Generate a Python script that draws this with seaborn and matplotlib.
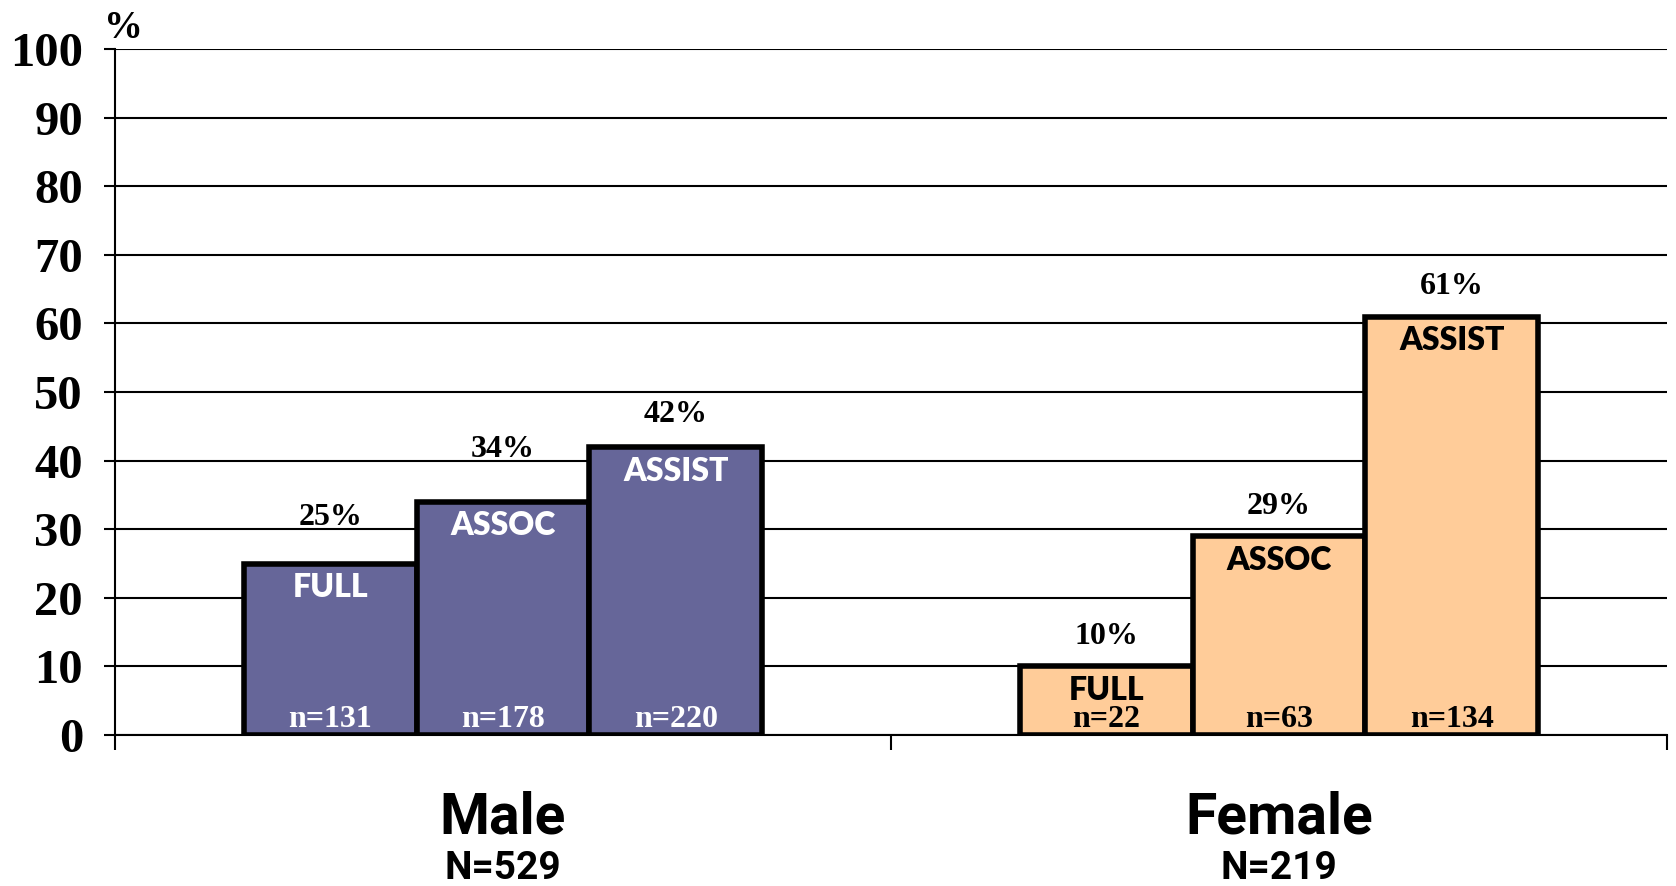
import matplotlib
matplotlib.use("Agg")
import matplotlib.pyplot as plt
import pandas as pd
import seaborn as sns

# chart data
genders = ["Male", "Female"]
group_totals = [529, 219]
ranks = ["FULL", "ASSOC", "ASSIST"]
male_pct = [25, 34, 42]
female_pct = [10, 29, 61]
male_n = [131, 178, 220]
female_n = [22, 63, 134]
y_ticks = list(range(0, 101, 10))

df = pd.DataFrame({
    "gender": [g for g in genders for _ in ranks],
    "rank": ranks * len(genders),
    "pct": male_pct + female_pct,
    "n": male_n + female_n,
})

# label gaps above each bar (points), hand placed in the original slide
pct_pad = {"Male": [28, 32, 18], "Female": [16, 16, 16]}
bar_colors = {"Male": "#666699", "Female": "#FFCC99"}
inner_colors = {"Male": "white", "Female": "black"}
serif = ["Liberation Serif", "DejaVu Serif"]
sans = ["Lato", "DejaVu Sans"]
cond = ["Roboto", "Liberation Sans", "DejaVu Sans"]

sns.set_theme(style="white")
plt.rcParams["text.color"] = "black"
plt.rcParams["ytick.color"] = "black"
plt.rcParams["xtick.color"] = "black"

fig = plt.figure(figsize=(16.76, 8.86), dpi=100)
ax = fig.add_axes([0.0686, 0.1704, 0.926, 0.7743])

sns.barplot(data=df, x="gender", y="pct", hue="rank", order=genders,
            hue_order=ranks, width=0.668, gap=0, errorbar=None,
            edgecolor="black", linewidth=4, legend=False, ax=ax)

# recolour bars by gender and put the labels on
for ri, cont in enumerate(ax.containers):
    for gi, bar in enumerate(cont):
        g = genders[gi]
        bar.set_facecolor(bar_colors[g])
        bar.set_edgecolor("black")
        cx = bar.get_x() + bar.get_width() / 2
        h = bar.get_height()
        row = df[(df.gender == g) & (df["rank"] == ranks[ri])].iloc[0]
        ax.annotate(f"{int(row.pct)}%", xy=(cx, h), xytext=(0, pct_pad[g][ri]),
                    textcoords="offset points", ha="center", va="baseline",
                    fontsize=23, fontweight="bold", family=serif, color="black")
        ax.annotate(ranks[ri], xy=(cx, h), xytext=(0, -7),
                    textcoords="offset points", ha="center", va="top",
                    fontsize=23, fontweight="heavy", family=sans,
                    color=inner_colors[g])
        ax.annotate(f"n={int(row.n)}", xy=(cx, 0), xytext=(0, 6),
                    textcoords="offset points", ha="center", va="baseline",
                    fontsize=23, fontweight="bold", family=serif,
                    color=inner_colors[g])

ax.set_xlim(-0.5, 1.5)
ax.set_ylim(0, 100)
ax.set_yticks(y_ticks)
ax.set_yticklabels([str(t) for t in y_ticks], fontsize=35, fontweight="bold",
                   family=serif, color="black")
ax.set_xticks([-0.5, 0.5, 1.5])
ax.set_xticklabels([])
ax.set_xlabel("")
ax.set_ylabel("")
ax.tick_params(axis="y", left=True, direction="out", length=8, width=1.5,
               color="black", pad=15)
ax.tick_params(axis="x", bottom=True, direction="out", length=11, width=1.5,
               color="black")
ax.yaxis.grid(True, color="black", linewidth=1.5)
ax.set_axisbelow(True)
for side in ["top", "right"]:
    ax.spines[side].set_visible(False)
for side in ["left", "bottom"]:
    ax.spines[side].set_color("black")
    ax.spines[side].set_linewidth(1.5)

# category names under the axis
for i, (g, tot) in enumerate(zip(genders, group_totals)):
    ax.annotate(g, xy=(i, 0), xycoords=("data", "axes fraction"),
                xytext=(0, -71), textcoords="offset points", ha="center",
                va="baseline", fontsize=41, fontweight="bold", family=cond,
                color="black")
    ax.annotate(f"N={tot}", xy=(i, 0), xycoords=("data", "axes fraction"),
                xytext=(0, -104), textcoords="offset points", ha="center",
                va="baseline", fontsize=28, fontweight="bold", family=cond,
                color="black")

fig.text(104 / 1676, 1 - 38 / 886, "%", fontsize=28, fontweight="bold",
         family=serif, va="baseline", color="black")

fig.savefig("out.png", dpi=100)
